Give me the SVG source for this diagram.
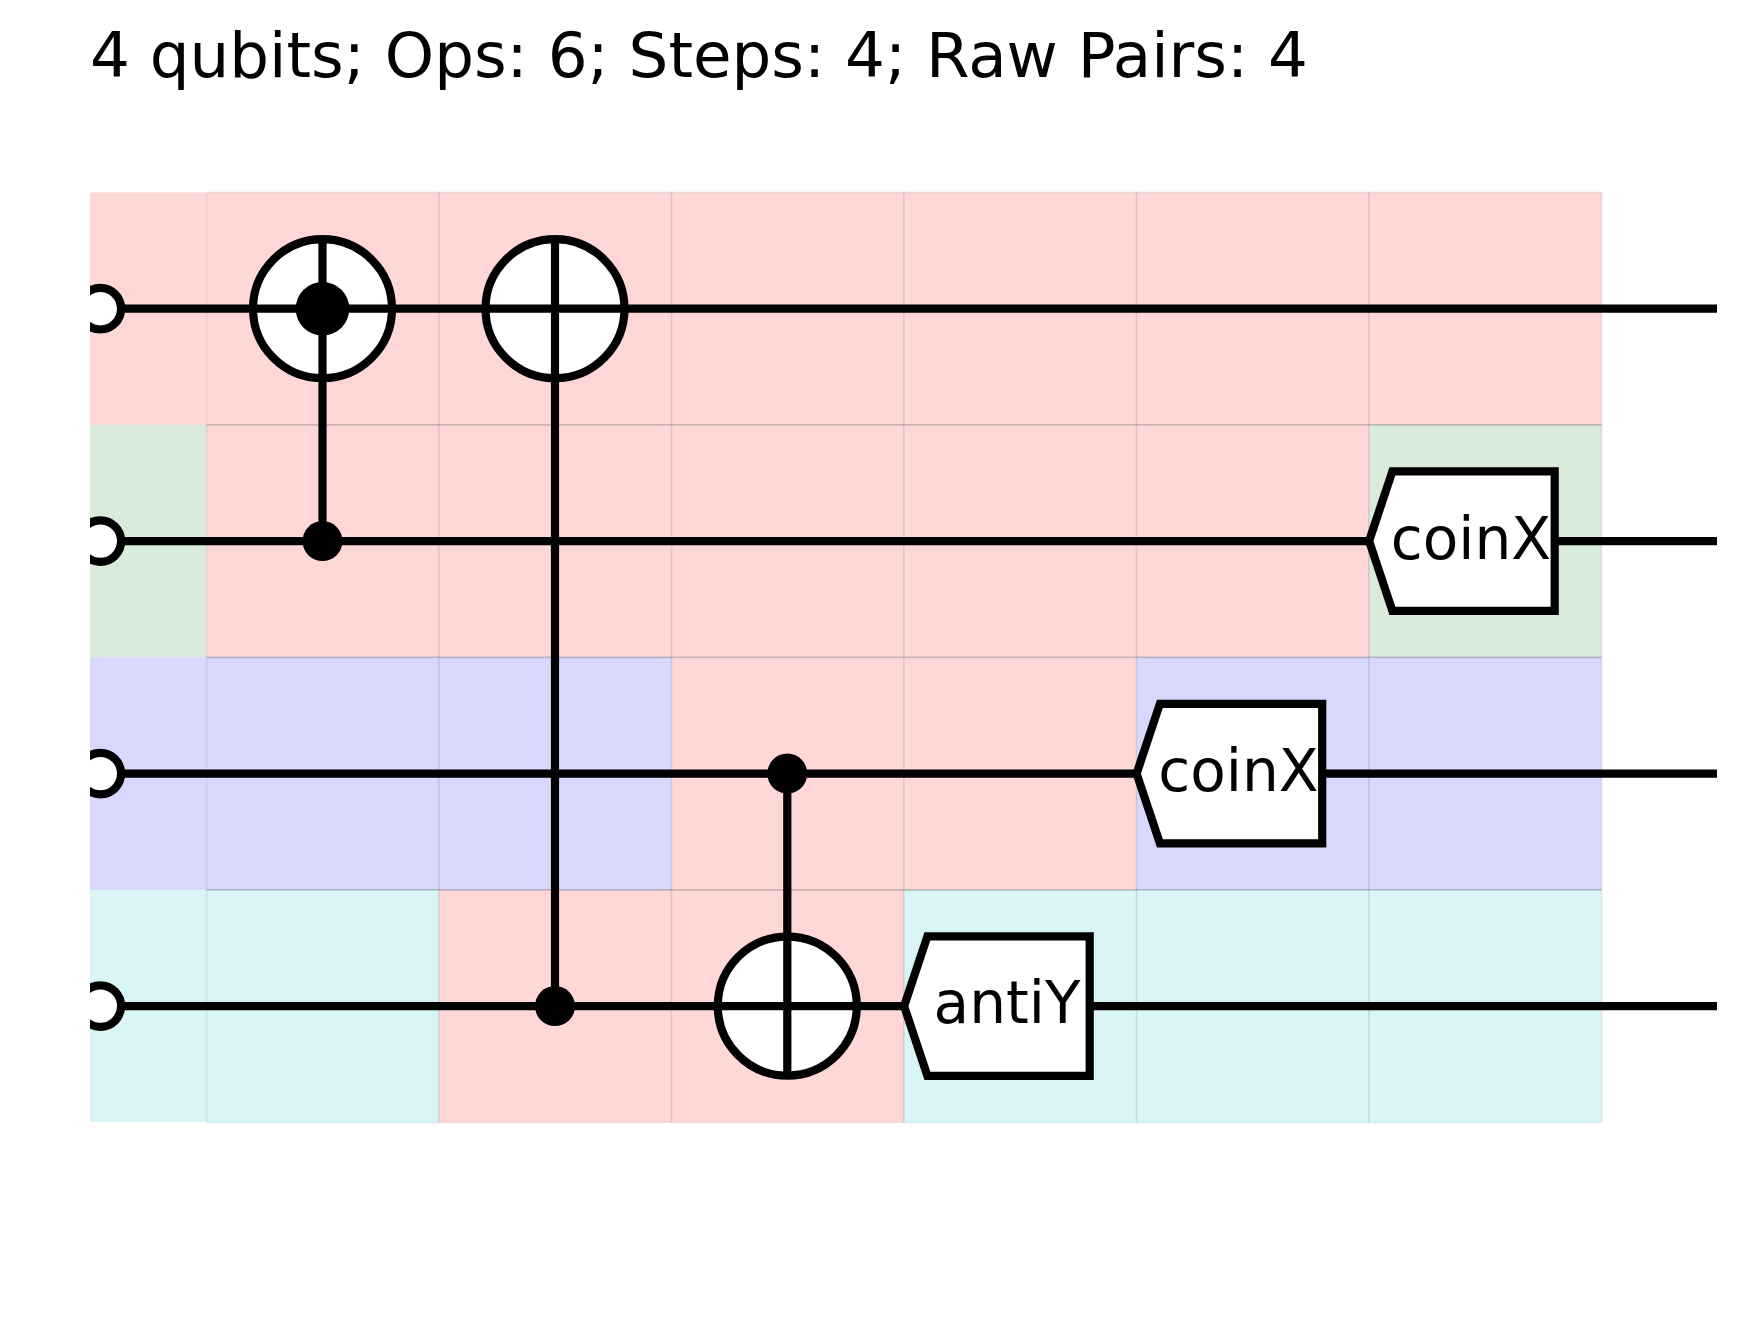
<svg xmlns="http://www.w3.org/2000/svg" width="1760" height="1342" viewBox="0 0 1760 1342">
<style>
text{font-family:"DejaVu Sans",sans-serif;fill:#000}
.title{font-size:62.7px}
.lbl{font-size:58.15px;text-anchor:middle}
.r{fill:#ffd7d7}.g{fill:#d9ebd9}.b{fill:#d8d8ff}.c{fill:#d9f5f5}
.cell{stroke:#000;stroke-opacity:.08;stroke-width:1.5}
.rule{stroke:#000;stroke-opacity:.11;stroke-width:1.5;fill:none}
.w{stroke:#000;stroke-width:8.2;fill:none}
.o{stroke:#000;stroke-width:8.2;fill:#fff}
.k{fill:#000}
</style>
<defs><clipPath id="leftClip"><rect x="90" y="0" width="1670" height="1342"/></clipPath></defs>
<rect width="1760" height="1342" fill="#fff"/>
<text class="title" x="90" y="76.7">4 qubits; Ops: 6; Steps: 4; Raw Pairs: 4</text>
<g id="grid">
<rect class="r" x="90" y="192.4" width="116.6" height="232.5"/>
<rect class="g" x="90" y="424.9" width="116.6" height="232.5"/>
<rect class="b" x="90" y="657.4" width="116.6" height="232.5"/>
<rect class="c" x="90" y="889.9" width="116.6" height="232"/>
<g class="cell">
<rect class="r" x="206.6" y="192.4" width="232.5" height="232.5"/><rect class="r" x="439.1" y="192.4" width="232.5" height="232.5"/><rect class="r" x="671.6" y="192.4" width="232.5" height="232.5"/><rect class="r" x="904.1" y="192.4" width="232.5" height="232.5"/><rect class="r" x="1136.6" y="192.4" width="232.5" height="232.5"/><rect class="r" x="1369.1" y="192.4" width="232.5" height="232.5"/>
<rect class="r" x="206.6" y="424.9" width="232.5" height="232.5"/><rect class="r" x="439.1" y="424.9" width="232.5" height="232.5"/><rect class="r" x="671.6" y="424.9" width="232.5" height="232.5"/><rect class="r" x="904.1" y="424.9" width="232.5" height="232.5"/><rect class="r" x="1136.6" y="424.9" width="232.5" height="232.5"/><rect class="g" x="1369.1" y="424.9" width="232.5" height="232.5"/>
<rect class="b" x="206.6" y="657.4" width="232.5" height="232.5"/><rect class="b" x="439.1" y="657.4" width="232.5" height="232.5"/><rect class="r" x="671.6" y="657.4" width="232.5" height="232.5"/><rect class="r" x="904.1" y="657.4" width="232.5" height="232.5"/><rect class="b" x="1136.6" y="657.4" width="232.5" height="232.5"/><rect class="b" x="1369.1" y="657.4" width="232.5" height="232.5"/>
<rect class="c" x="206.6" y="889.9" width="232.5" height="232.5"/><rect class="r" x="439.1" y="889.9" width="232.5" height="232.5"/><rect class="r" x="671.6" y="889.9" width="232.5" height="232.5"/><rect class="c" x="904.1" y="889.9" width="232.5" height="232.5"/><rect class="c" x="1136.6" y="889.9" width="232.5" height="232.5"/><rect class="c" x="1369.1" y="889.9" width="232.5" height="232.5"/>
</g>
<path class="rule" d="M206.6 424.9H1601.6M206.6 657.4H1601.6M206.6 889.9H1601.6"/>
</g>
<g id="connectors">
<path class="w" d="M100.3 308.7H1717M100.3 541.1H1717M100.3 773.6H1717M100.3 1006.1H1717"/>
</g>
<g id="q0-start" clip-path="url(#leftClip)"><circle class="o" cx="100.3" cy="308.7" r="20.8"/></g>
<g id="q1-start" clip-path="url(#leftClip)"><circle class="o" cx="100.3" cy="541.1" r="20.8"/></g>
<g id="q2-start" clip-path="url(#leftClip)"><circle class="o" cx="100.3" cy="773.6" r="20.8"/></g>
<g id="q3-start" clip-path="url(#leftClip)"><circle class="o" cx="100.3" cy="1006.1" r="20.8"/></g>
<g id="cnot1">
<circle class="o" cx="322.5" cy="308.7" r="69.5"/>
<path class="w" d="M253 308.7H392M322.5 239.2V541.1"/>
<circle class="k" cx="322.5" cy="308.7" r="26.8"/>
<circle class="k" cx="322.5" cy="541.1" r="20"/>
</g>
<g id="cnot2">
<circle class="o" cx="555" cy="308.7" r="69.5"/>
<path class="w" d="M485.5 308.7H624.5M555 239.2V1006.1"/>
<circle class="k" cx="555" cy="1006.1" r="20"/>
</g>
<g id="cnot3">
<circle class="o" cx="787.3" cy="1006.1" r="69.5"/>
<path class="w" d="M717.8 1006.1H856.8M787.3 773.6V1075.6"/>
<circle class="k" cx="787.3" cy="773.6" r="20"/>
</g>
<g id="gate-antiY">
<path class="o" d="M904.1 1006.1L927.4 936.3H1089.7V1075.9H927.4Z"/>
<text class="lbl" x="1007" y="1023.2">antiY</text>
</g>
<g id="gate-coinX-q2">
<path class="o" d="M1136.6 773.6L1159.9 703.8H1322.2V843.4H1159.9Z"/>
<text class="lbl" x="1238.4" y="790.9">coinX</text>
</g>
<g id="gate-coinX-q1">
<path class="o" d="M1369.1 541.1L1392.4 471.3H1554.7V610.9H1392.4Z"/>
<text class="lbl" x="1471" y="558.6">coinX</text>
</g>
</svg>
